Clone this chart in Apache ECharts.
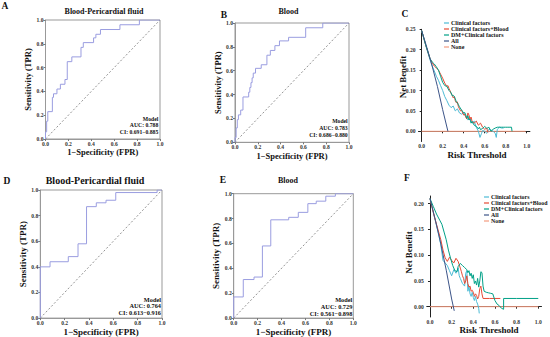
<!DOCTYPE html>
<html>
<head>
<meta charset="utf-8">
<script src="https://cdn.jsdelivr.net/npm/echarts/dist/echarts.min.js"></script>
<style>
html,body{margin:0;padding:0;background:#fff;}
#chart{width:550px;height:337px;}
</style>
</head>
<body>
<div id="chart"></div>
<script>
// ---------- ROC data (FPR jump position, new TPR) ----------
const rocA_fpr = [0, 0, 0.01, 0.02, 0.06, 0.07, 0.10, 0.13, 0.17, 0.19, 0.23, 0.31, 0.33, 0.42, 0.44, 0.48, 0.65, 0.82, 1.0];
const rocA_tpr = [0, 0.06, 0.15, 0.23, 0.35, 0.38, 0.42, 0.46, 0.50, 0.65, 0.69, 0.77, 0.81, 0.85, 0.88, 0.92, 0.96, 1.0, 1.0];

const rocB_fpr = [0, 0, 0.01, 0.02, 0.03, 0.05, 0.07, 0.12, 0.13, 0.14, 0.15, 0.16, 0.18, 0.23, 0.28, 0.31, 0.35, 0.39, 0.47, 0.62, 0.77, 1.0];
const rocB_tpr = [0, 0.04, 0.12, 0.19, 0.23, 0.27, 0.38, 0.42, 0.46, 0.50, 0.54, 0.58, 0.62, 0.65, 0.73, 0.77, 0.81, 0.85, 0.88, 0.96, 1.0, 1.0];

const rocD_fpr = [0, 0, 0.08, 0.23, 0.31, 0.38, 0.46, 0.54, 0.62, 0.96, 1.0];
const rocD_tpr = [0, 0.40, 0.44, 0.48, 0.58, 0.87, 0.90, 0.92, 0.98, 1.0, 1.0];

const rocE_fpr = [0, 0, 0.08, 0.17, 0.24, 0.31, 0.46, 0.54, 0.62, 0.69, 0.77, 0.85, 1.0];
const rocE_tpr = [0, 0.17, 0.31, 0.33, 0.58, 0.79, 0.81, 0.85, 0.92, 0.94, 0.98, 1.0, 1.0];

const rocTitles = ['Blood-Pericardial fluid', 'Blood', 'Blood-Pericardial fluid', 'Blood'];
const rocAUC = ['AUC: 0.788', 'AUC: 0.783', 'AUC: 0.764', 'AUC: 0.729'];
const rocCI = ['CI: 0.691\u22120.885', 'CI: 0.686\u22120.880', 'CI: 0.613\u22120.916', 'CI: 0.561\u22120.898'];
const panelLetters = ['A', 'B', 'C', 'D', 'E', 'F'];

const rocTicks = [0, 0.2, 0.4, 0.6, 0.8, 1.0];
const dcaXTicks = [0, 0.2, 0.4, 0.6, 0.8, 1.0];
const dcaYTicksC = [0, 0.05, 0.10, 0.15, 0.20, 0.25];
const dcaYTicksF = [0, 0.05, 0.10, 0.15, 0.20];

const dcaNames = ['Clinical factors', 'Clinical factors+Blood', 'DM+Clinical factors', 'All', 'None'];

// ---------- DCA panel C ----------
const cClin_x = [0,0.04,0.08,0.10,0.12,0.14,0.16,0.18,0.20,0.22,0.24,0.26,0.28,0.30,0.32,0.34,0.36,0.38,0.40,0.42,0.44,0.46,0.48,0.50,0.52,0.54,0.555,0.57,0.58,0.60,0.62,0.64,0.66,0.68,0.70,0.71,0.72,0.74,0.76,0.78];
const cClin_y = [0.247,0.21,0.175,0.16,0.148,0.135,0.125,0.112,0.10,0.085,0.075,0.064,0.058,0.062,0.05,0.055,0.045,0.042,0.045,0.035,0.028,0.032,0.02,0.025,0.01,0.0,-0.015,-0.005,0.002,0.0,-0.005,0.005,0.003,0.0,-0.005,-0.015,0.005,0.01,0.008,0.008];

const cBlood_x = [0,0.04,0.08,0.10,0.12,0.14,0.16,0.18,0.20,0.22,0.24,0.25,0.26,0.27,0.28,0.29,0.30,0.31,0.32,0.33,0.34,0.35,0.36,0.37,0.38,0.39,0.40,0.41,0.42,0.43,0.44,0.45,0.46,0.47,0.48,0.50,0.52,0.54,0.56,0.58,0.60,0.62,0.63];
const cBlood_y = [0.247,0.21,0.178,0.168,0.16,0.155,0.15,0.14,0.13,0.118,0.11,0.112,0.105,0.10,0.092,0.09,0.082,0.085,0.075,0.07,0.072,0.06,0.055,0.05,0.052,0.045,0.04,0.042,0.035,0.03,0.045,0.04,0.03,0.035,0.024,0.02,0.025,0.015,0.02,0.01,0.005,0.008,-0.003];

const cDM_x = [0,0.04,0.08,0.10,0.12,0.14,0.16,0.18,0.20,0.22,0.24,0.26,0.27,0.28,0.29,0.30,0.31,0.32,0.33,0.34,0.35,0.36,0.38,0.40,0.41,0.42,0.43,0.44,0.45,0.46,0.47,0.48,0.50,0.52,0.54,0.55,0.56,0.58,0.60,0.62,0.64,0.66,0.68,0.70,0.72,0.74,0.76,0.78,0.80,0.82,0.84,0.855,0.86];
const cDM_y = [0.247,0.21,0.178,0.17,0.165,0.158,0.15,0.135,0.12,0.112,0.11,0.10,0.097,0.095,0.087,0.088,0.086,0.08,0.072,0.07,0.065,0.06,0.052,0.045,0.046,0.04,0.032,0.038,0.028,0.03,0.02,0.024,0.015,0.012,0.006,0.01,0.004,0.007,0.012,0.007,0.01,0.0,0.005,0.008,0.01,0.01,0.01,0.01,0.01,0.01,0.01,0.01,0.0];

const cAll_x = [0,0.05,0.10,0.15,0.20,0.25];
const cAll_y = [0.247,0.205,0.16,0.11,0.053,0.0];
const cNone_x = [0,0.99];
const cNone_y = [0,0];

// ---------- DCA panel F ----------
const fClin_x = [0,0.04,0.08,0.10,0.12,0.14,0.16,0.18,0.20,0.22,0.24,0.26,0.27,0.28,0.30,0.32,0.33,0.34,0.35,0.36,0.37,0.38,0.39,0.40,0.41,0.42,0.43,0.44,0.45,0.455];
const fClin_y = [0.21,0.175,0.14,0.12,0.09,0.085,0.08,0.07,0.06,0.072,0.065,0.075,0.06,0.055,0.045,0.04,0.065,0.07,0.03,0.04,0.025,0.02,0.028,0.018,0.012,0.02,0.01,0.005,-0.003,-0.013];

const fBlood_x = [0,0.04,0.08,0.10,0.12,0.14,0.16,0.18,0.20,0.22,0.24,0.26,0.28,0.29,0.30,0.31,0.32,0.33,0.34,0.35,0.36,0.37,0.38,0.39,0.40,0.41,0.42,0.43,0.44,0.45,0.46,0.47,0.48,0.49,0.55,0.60,0.65];
const fBlood_y = [0.21,0.175,0.145,0.13,0.11,0.095,0.088,0.096,0.09,0.085,0.094,0.088,0.075,0.068,0.06,0.055,0.045,0.05,0.06,0.045,0.038,0.04,0.03,0.032,0.028,0.02,0.025,0.022,0.015,0.02,0.035,0.04,0.025,0.016,0.016,0.016,0.016];

const fDM_x = [0,0.03,0.06,0.09,0.11,0.13,0.15,0.17,0.19,0.21,0.23,0.25,0.26,0.28,0.30,0.32,0.34,0.35,0.36,0.37,0.38,0.39,0.40,0.41,0.42,0.43,0.44,0.45,0.46,0.47,0.48,0.49,0.50,0.52,0.54,0.56,0.58,0.60,0.62,0.64,0.66,0.68,0.68,0.80,1.0];
const fDM_y = [0.21,0.195,0.18,0.168,0.16,0.145,0.13,0.11,0.094,0.08,0.07,0.068,0.078,0.084,0.08,0.076,0.072,0.066,0.07,0.06,0.065,0.055,0.062,0.045,0.05,0.042,0.055,0.038,0.05,0.068,0.066,0.04,0.03,0.028,0.027,0.026,0.025,0.012,0.005,0.002,-0.003,-0.005,0.016,0.016,0.016];

const fAll_x = [0,0.05,0.10,0.15,0.20,0.224];
const fAll_y = [0.21,0.168,0.122,0.071,0.015,-0.008];
const fNone_x = [0,1.0];
const fNone_y = [0,0];

// ---------- helpers ----------
const FF = "'Liberation Serif','Times New Roman',serif";
const zip = (xs, ys) => xs.map((x, i) => [x, ys[i]]);
const dcaColors = ['#4DBBD5', '#E64B35', '#00A087', '#3C5488', '#F39B7F'];

// grid layouts: A, B, C, D, E, F
const grids = [
  {left: 45.5, top: 20, width: 114.5, height: 119},
  {left: 235, top: 23, width: 114, height: 119.3},
  {left: 418.5, top: 29.3, width: 111.4, height: 112.2},
  {left: 40.3, top: 190, width: 121.7, height: 128.3},
  {left: 233.7, top: 193.7, width: 119.6, height: 125},
  {left: 426.75, top: 196, width: 114.75, height: 121}
];
const rocGrids = [0, 1, 3, 4];

const tickLabel = {fontSize: 5.6, fontWeight: 'bold', fontFamily: FF, color: '#333'};
const nameStyle = (s) => ({fontSize: s, fontWeight: 'bold', fontFamily: FF, color: '#111'});

const xAxes = [], yAxes = [], series = [], graphics = [];

grids.forEach((g, gi) => {
  const isRoc = rocGrids.indexOf(gi) >= 0;
  if (isRoc) {
    const big = gi >= 3;
    xAxes.push({
      type: 'value', gridIndex: gi, min: 0, max: 1, interval: 0.2,
      axisLine: {show: true, lineStyle: {color: '#999', width: 1}},
      axisTick: {show: true, length: 2, lineStyle: {color: '#777'}},
      axisLabel: Object.assign({margin: 2, formatter: v => v.toFixed(1)}, tickLabel),
      splitLine: {show: false},
      name: '1\u2212Specificity (FPR)', nameLocation: 'middle', nameGap: 6,
      nameTextStyle: nameStyle(big ? 9 : 8.5)
    });
    yAxes.push({
      type: 'value', gridIndex: gi, min: 0, max: 1, interval: 0.2,
      axisLine: {show: true, lineStyle: {color: '#999', width: 1}},
      axisTick: {show: true, length: 2, lineStyle: {color: '#777'}},
      axisLabel: Object.assign({margin: 2, formatter: v => v.toFixed(1)}, tickLabel),
      splitLine: {show: false},
      name: 'Sensitivity (TPR)', nameLocation: 'middle', nameGap: big ? 11 : 9,
      nameTextStyle: nameStyle(big ? 9 : 8.5)
    });
  } else {
    const isC = gi === 2;
    const yt = isC ? dcaYTicksC : dcaYTicksF;
    xAxes.push({
      type: 'value', gridIndex: gi, min: -0.03, max: 1.03,
      axisLine: {show: true, lineStyle: {color: '#222', width: 1}},
      axisTick: {show: true, length: 2, customValues: dcaXTicks, lineStyle: {color: '#222'}},
      axisLabel: Object.assign({margin: 1.5, customValues: dcaXTicks, formatter: v => v.toFixed(1)}, tickLabel),
      splitLine: {show: false}
    });
    yAxes.push({
      type: 'value', gridIndex: gi, min: isC ? -0.025 : -0.02, max: isC ? 0.25 : 0.215,
      axisLine: {show: true, lineStyle: {color: '#222', width: 1}},
      axisTick: {show: true, length: 2, customValues: yt, lineStyle: {color: '#222'}},
      axisLabel: Object.assign({margin: 3, customValues: yt, formatter: v => v.toFixed(2)}, tickLabel),
      splitLine: {show: false}
    });
  }
});

// ROC series
const rocData = [[rocA_fpr, rocA_tpr], [rocB_fpr, rocB_tpr], [rocD_fpr, rocD_tpr], [rocE_fpr, rocE_tpr]];
rocGrids.forEach((gi, k) => {
  series.push({
    type: 'line', xAxisIndex: gi, yAxisIndex: gi, symbol: 'none', silent: true,
    data: [[0, 0], [1, 1]],
    lineStyle: {color: '#777', width: 0.8, type: [2, 2]}
  });
  series.push({
    type: 'line', xAxisIndex: gi, yAxisIndex: gi, symbol: 'none', step: 'end',
    data: zip(rocData[k][0], rocData[k][1]),
    lineStyle: {color: '#9A9DE0', width: 1}
  });
});

// DCA series
const dcaSets = [
  {gi: 2, sets: [[cClin_x, cClin_y], [cBlood_x, cBlood_y], [cDM_x, cDM_y], [cAll_x, cAll_y], [cNone_x, cNone_y]]},
  {gi: 5, sets: [[fClin_x, fClin_y], [fBlood_x, fBlood_y], [fDM_x, fDM_y], [fAll_x, fAll_y], [fNone_x, fNone_y]]}
];
dcaSets.forEach(p => {
  p.sets.forEach((s, i) => {
    series.push({
      type: 'line', name: dcaNames[i], xAxisIndex: p.gi, yAxisIndex: p.gi, symbol: 'none',
      data: zip(s[0], s[1]), color: dcaColors[i],
      lineStyle: {color: dcaColors[i], width: 1}, z: i === 4 ? 1 : 2
    });
  });
});

const txt = (x, y, t, fs, align, rot) => ({
  type: 'text', x: x, y: y, rotation: rot || 0,
  style: {text: t, fontSize: fs, fontWeight: 'bold', fontFamily: FF, fill: '#111', align: align || 'center', verticalAlign: 'middle'}
});

// Panel letters
const letterPos = [[5, 6], [224, 15], [405, 14], [7, 181], [223, 180], [407, 178]];
panelLetters.forEach((L, i) => graphics.push(txt(letterPos[i][0], letterPos[i][1], L, 9.5)));
// ROC titles
const titlePos = [[104, 11.5, 8], [288.5, 11.5, 8], [95, 180.5, 10], [288, 180, 8]];
rocTitles.forEach((t, i) => graphics.push(txt(titlePos[i][0], titlePos[i][1], t, titlePos[i][2])));
// ROC annotations
const annPos = [[158.3, 119, 6.3, 5.7], [347.7, 121.3, 6.7, 5.7], [161, 299.3, 6.5, 6.3], [352.3, 299, 7, 6.3]];
rocGrids.forEach((gi, k) => {
  const [x, y, dy, fs] = annPos[k];
  ['Model', rocAUC[k], rocCI[k]].forEach((t, j) => graphics.push(txt(x, y + j * dy, t, fs, 'right')));
});
// DCA axis titles
graphics.push(txt(477, 154.5, 'Risk Threshold', 9));
graphics.push(txt(402.7, 77, 'Net Benefit', 8.8, 'center', Math.PI / 2));
graphics.push(txt(489, 329.8, 'Risk Threshold', 9));
graphics.push(txt(408.5, 252.5, 'Net Benefit', 8.8, 'center', Math.PI / 2));

const legendCommon = (fs, lh) => ({
  orient: 'vertical', data: dcaNames, icon: 'rect', itemWidth: 5, itemHeight: 1.2,
  itemGap: 0, padding: 0, selectedMode: false,
  textStyle: {fontSize: fs, fontWeight: 'bold', fontFamily: FF, color: '#111', lineHeight: lh, padding: [0, 0, 0, -3]}
});

const option = {
  animation: false,
  backgroundColor: '#fff',
  grid: grids.map((g, i) => Object.assign({
    show: rocGrids.indexOf(i) >= 0, borderColor: '#999', borderWidth: 1, containLabel: false
  }, g)),
  xAxis: xAxes,
  yAxis: yAxes,
  legend: [
    Object.assign({left: 444, top: 20}, legendCommon(6, 5.6)),
    Object.assign({left: 484, top: 194}, legendCommon(5.9, 4.9))
  ],
  series: series,
  graphic: graphics
};

const chart = echarts.init(document.getElementById('chart'), null, {renderer: 'svg'});
chart.setOption(option);
</script>
</body>
</html>
